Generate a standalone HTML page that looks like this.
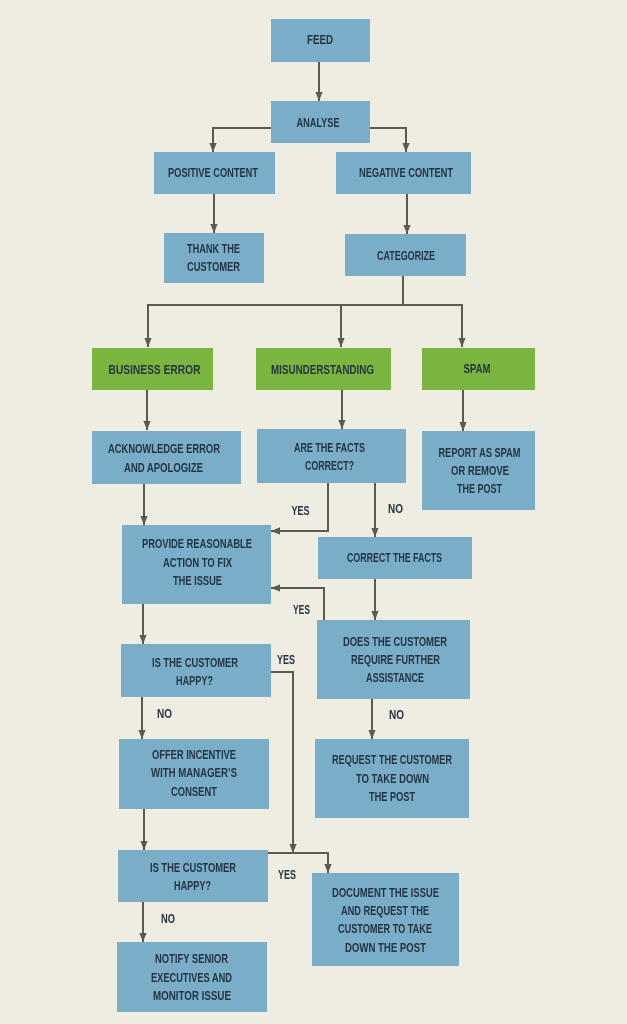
<!DOCTYPE html>
<html><head><meta charset="utf-8"><style>
html,body{margin:0;padding:0;background:#efece2;}
svg{display:block;}
text{font-family:"Liberation Sans Narrow","Liberation Sans",sans-serif;font-weight:bold;font-size:13px;fill:#253442;}
</style></head><body>
<svg width="627" height="1024" viewBox="0 0 627 1024" xmlns="http://www.w3.org/2000/svg">
<defs>
<marker id="a" viewBox="0 0 10 8" refX="10" refY="4" markerWidth="9" markerHeight="8" markerUnits="userSpaceOnUse" orient="auto">
<path d="M0,0 L10,4 L0,8 z" fill="#5b5a50"/>
</marker>
</defs>
<rect width="627" height="1024" fill="#efece2"/>
<g fill="#79adc8">
<rect x="271" y="19" width="99" height="43"/>
<rect x="271" y="101" width="99" height="42"/>
<rect x="154" y="152" width="121" height="42"/>
<rect x="336" y="152" width="135" height="42"/>
<rect x="164" y="233" width="100" height="50"/>
<rect x="345" y="234" width="121" height="42"/>
<rect x="92" y="431" width="149" height="53"/>
<rect x="257" y="429" width="149" height="54"/>
<rect x="422" y="431" width="113" height="79"/>
<rect x="122" y="525" width="149" height="79"/>
<rect x="318" y="537" width="154" height="42"/>
<rect x="317" y="620" width="153" height="79"/>
<rect x="121" y="644" width="150" height="53"/>
<rect x="119" y="739" width="150" height="70"/>
<rect x="315" y="739" width="154" height="79"/>
<rect x="118" y="850" width="150" height="52"/>
<rect x="312" y="873" width="147" height="93"/>
<rect x="117" y="942" width="150" height="70"/>
</g>
<g fill="#7ab540">
<rect x="92" y="348" width="121" height="42"/>
<rect x="256" y="348" width="135" height="42"/>
<rect x="422" y="348" width="113" height="42"/>
</g>
<g stroke="#5b5a50" stroke-width="2" fill="none">
<polyline points="319,62 319,101" marker-end="url(#a)"/>
<polyline points="271,128 213,128 213,152" marker-end="url(#a)"/>
<polyline points="370,128 406,128 406,152" marker-end="url(#a)"/>
<polyline points="214,194 214,233" marker-end="url(#a)"/>
<polyline points="407,194 407,234" marker-end="url(#a)"/>
<polyline points="403,276 403,305"/>
<polyline points="147,305 463,305"/>
<polyline points="148,305 148,347" marker-end="url(#a)"/>
<polyline points="341,305 341,347" marker-end="url(#a)"/>
<polyline points="462,305 462,347" marker-end="url(#a)"/>
<polyline points="147,390 147,430" marker-end="url(#a)"/>
<polyline points="342,390 342,429" marker-end="url(#a)"/>
<polyline points="463,390 463,431" marker-end="url(#a)"/>
<polyline points="144,484 144,525" marker-end="url(#a)"/>
<polyline points="328,483 328,531 271,531" marker-end="url(#a)"/>
<polyline points="375,483 375,537" marker-end="url(#a)"/>
<polyline points="375,579 375,620" marker-end="url(#a)"/>
<polyline points="324,620 324,588 271,588" marker-end="url(#a)"/>
<polyline points="143,604 143,644" marker-end="url(#a)"/>
<polyline points="271,672 293,672 293,853" marker-end="url(#a)"/>
<polyline points="142,697 142,739" marker-end="url(#a)"/>
<polyline points="372,699 372,739" marker-end="url(#a)"/>
<polyline points="144,809 144,850" marker-end="url(#a)"/>
<polyline points="268,853 328,853 328,873" marker-end="url(#a)"/>
<polyline points="143,902 143,942" marker-end="url(#a)"/>
</g>
<g text-anchor="middle">
<text x="320" y="44" textLength="26" lengthAdjust="spacingAndGlyphs">FEED</text>
<text x="318" y="127" textLength="43" lengthAdjust="spacingAndGlyphs">ANALYSE</text>
<text x="213" y="177" textLength="90" lengthAdjust="spacingAndGlyphs">POSITIVE CONTENT</text>
<text x="406" y="177" textLength="94" lengthAdjust="spacingAndGlyphs">NEGATIVE CONTENT</text>
<text x="213.5" y="253" textLength="53" lengthAdjust="spacingAndGlyphs">THANK THE</text>
<text x="213.5" y="271" textLength="53" lengthAdjust="spacingAndGlyphs">CUSTOMER</text>
<text x="406" y="260" textLength="58" lengthAdjust="spacingAndGlyphs">CATEGORIZE</text>
<text x="154.5" y="374" textLength="92" lengthAdjust="spacingAndGlyphs">BUSINESS ERROR</text>
<text x="322.5" y="374" textLength="103" lengthAdjust="spacingAndGlyphs">MISUNDERSTANDING</text>
<text x="477" y="373" textLength="27" lengthAdjust="spacingAndGlyphs">SPAM</text>
<text x="164" y="453" textLength="112" lengthAdjust="spacingAndGlyphs">ACKNOWLEDGE ERROR</text>
<text x="163.5" y="472" textLength="79" lengthAdjust="spacingAndGlyphs">AND APOLOGIZE</text>
<text x="329.5" y="452" textLength="71" lengthAdjust="spacingAndGlyphs">ARE THE FACTS</text>
<text x="329.5" y="470" textLength="49" lengthAdjust="spacingAndGlyphs">CORRECT?</text>
<text x="479.5" y="457" textLength="82" lengthAdjust="spacingAndGlyphs">REPORT AS SPAM</text>
<text x="480" y="475" textLength="58" lengthAdjust="spacingAndGlyphs">OR REMOVE</text>
<text x="479.5" y="493" textLength="45" lengthAdjust="spacingAndGlyphs">THE POST</text>
<text x="300.5" y="515" textLength="18" lengthAdjust="spacingAndGlyphs">YES</text>
<text x="395.5" y="513" textLength="15" lengthAdjust="spacingAndGlyphs">NO</text>
<text x="197" y="548" textLength="110" lengthAdjust="spacingAndGlyphs">PROVIDE REASONABLE</text>
<text x="197.5" y="567" textLength="69" lengthAdjust="spacingAndGlyphs">ACTION TO FIX</text>
<text x="197.5" y="585" textLength="49" lengthAdjust="spacingAndGlyphs">THE ISSUE</text>
<text x="394.5" y="562" textLength="95" lengthAdjust="spacingAndGlyphs">CORRECT THE FACTS</text>
<text x="301.5" y="614" textLength="17" lengthAdjust="spacingAndGlyphs">YES</text>
<text x="395" y="646" textLength="104" lengthAdjust="spacingAndGlyphs">DOES THE CUSTOMER</text>
<text x="395.5" y="664" textLength="89" lengthAdjust="spacingAndGlyphs">REQUIRE FURTHER</text>
<text x="395" y="682" textLength="58" lengthAdjust="spacingAndGlyphs">ASSISTANCE</text>
<text x="195" y="667" textLength="86" lengthAdjust="spacingAndGlyphs">IS THE CUSTOMER</text>
<text x="194.5" y="685" textLength="37" lengthAdjust="spacingAndGlyphs">HAPPY?</text>
<text x="286" y="664" textLength="18" lengthAdjust="spacingAndGlyphs">YES</text>
<text x="164.5" y="718" textLength="15" lengthAdjust="spacingAndGlyphs">NO</text>
<text x="396.5" y="719" textLength="15" lengthAdjust="spacingAndGlyphs">NO</text>
<text x="194" y="759" textLength="84" lengthAdjust="spacingAndGlyphs">OFFER INCENTIVE</text>
<text x="194" y="777" textLength="86" lengthAdjust="spacingAndGlyphs">WITH MANAGER’S</text>
<text x="194" y="796" textLength="46" lengthAdjust="spacingAndGlyphs">CONSENT</text>
<text x="392" y="764" textLength="120" lengthAdjust="spacingAndGlyphs">REQUEST THE CUSTOMER</text>
<text x="392.5" y="783" textLength="73" lengthAdjust="spacingAndGlyphs">TO TAKE DOWN</text>
<text x="392" y="801" textLength="46" lengthAdjust="spacingAndGlyphs">THE POST</text>
<text x="193" y="872" textLength="86" lengthAdjust="spacingAndGlyphs">IS THE CUSTOMER</text>
<text x="192.5" y="890" textLength="37" lengthAdjust="spacingAndGlyphs">HAPPY?</text>
<text x="287" y="879" textLength="18" lengthAdjust="spacingAndGlyphs">YES</text>
<text x="168" y="923" textLength="14" lengthAdjust="spacingAndGlyphs">NO</text>
<text x="385.5" y="897" textLength="107" lengthAdjust="spacingAndGlyphs">DOCUMENT THE ISSUE</text>
<text x="385" y="915" textLength="88" lengthAdjust="spacingAndGlyphs">AND REQUEST THE</text>
<text x="385" y="933" textLength="94" lengthAdjust="spacingAndGlyphs">CUSTOMER TO TAKE</text>
<text x="385.5" y="952" textLength="81" lengthAdjust="spacingAndGlyphs">DOWN THE POST</text>
<text x="191.5" y="963" textLength="73" lengthAdjust="spacingAndGlyphs">NOTIFY SENIOR</text>
<text x="191.5" y="982" textLength="81" lengthAdjust="spacingAndGlyphs">EXECUTIVES AND</text>
<text x="192" y="1000" textLength="78" lengthAdjust="spacingAndGlyphs">MONITOR ISSUE</text>
</g>
</svg>
</body></html>
